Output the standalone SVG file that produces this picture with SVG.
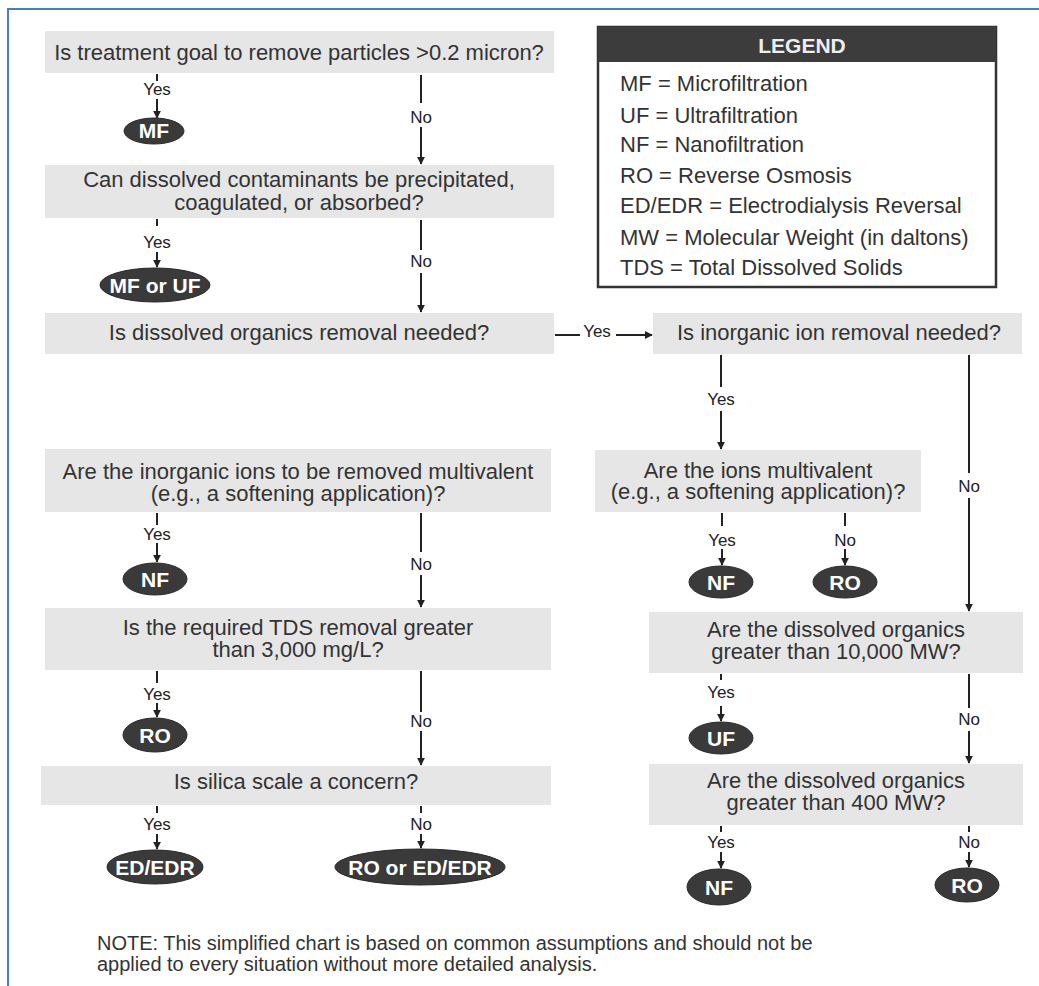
<svg xmlns="http://www.w3.org/2000/svg" width="1039" height="986" viewBox="0 0 1039 986">
<defs>
<style>
.box{fill:#e6e6e6}
.q{font-family:"Liberation Sans",Arial,sans-serif;font-size:22px;fill:#333;text-anchor:middle}
.lbl{font-family:"Liberation Sans",Arial,sans-serif;font-size:17px;fill:#222;text-anchor:middle}
.term{fill:#3a3a3a;stroke:#2a2a2a;stroke-width:1}
.tt{font-family:"Liberation Sans",Arial,sans-serif;font-size:21px;font-weight:bold;fill:#fff;text-anchor:middle}
.ln{stroke:#222;stroke-width:2;fill:none}
.ar{stroke:#222;stroke-width:2;fill:none;marker-end:url(#ah)}
.leg{font-family:"Liberation Sans",Arial,sans-serif;font-size:22px;fill:#333}
.note{font-family:"Liberation Sans",Arial,sans-serif;font-size:20px;fill:#333}
</style>
<marker id="ah" viewBox="0 0 10 10" refX="9" refY="5" markerWidth="4" markerHeight="4" orient="auto" markerUnits="strokeWidth"><path d="M0,0 L10,5 L0,10 z" fill="#222"/></marker>
</defs>
<rect width="1039" height="986" fill="#fff"/>
<path d="M8,986 V9 H1039" fill="none" stroke="#4a7ebb" stroke-width="2"/>

<g id="q1"><rect class="box" x="45" y="31" width="509" height="42"/><text class="q" x="299" y="60">Is treatment goal to remove particles &gt;0.2 micron?</text></g>
<g id="mf"><ellipse class="term" cx="154" cy="131" rx="30" ry="13"/><text class="tt" x="154" y="138">MF</text></g>
<g id="q2"><rect class="box" x="45" y="165" width="509" height="53"/><text class="q" x="299" y="187">Can dissolved contaminants be precipitated,</text><text class="q" x="299" y="210">coagulated, or absorbed?</text></g>
<g id="mfuf"><ellipse class="term" cx="155" cy="285" rx="55" ry="17"/><text class="tt" x="155" y="293">MF or UF</text></g>
<g id="q3"><rect class="box" x="45" y="313" width="509" height="41"/><text class="q" x="299" y="340">Is dissolved organics removal needed?</text></g>
<g id="q4r"><rect class="box" x="653" y="313" width="369" height="41"/><text class="q" x="839" y="340">Is inorganic ion removal needed?</text></g>
<g id="q4l"><rect class="box" x="45" y="449" width="506" height="63"/><text class="q" x="298" y="479">Are the inorganic ions to be removed multivalent</text><text class="q" x="298" y="501">(e.g., a softening application)?</text></g>
<g id="q5r"><rect class="box" x="595" y="450" width="326" height="62"/><text class="q" x="758" y="478">Are the ions multivalent</text><text class="q" x="758" y="499">(e.g., a softening application)?</text></g>
<g id="nf1"><ellipse class="term" cx="155" cy="579" rx="32" ry="16"/><text class="tt" x="155" y="587">NF</text></g>
<g id="nf2"><ellipse class="term" cx="721" cy="582" rx="32" ry="16"/><text class="tt" x="721" y="590">NF</text></g>
<g id="ro2"><ellipse class="term" cx="845" cy="582" rx="32" ry="16"/><text class="tt" x="845" y="590">RO</text></g>
<g id="q5l"><rect class="box" x="45" y="608" width="506" height="62"/><text class="q" x="298" y="635">Is the required TDS removal greater</text><text class="q" x="298" y="657">than 3,000 mg/L?</text></g>
<g id="q7r"><rect class="box" x="649" y="612" width="374" height="61"/><text class="q" x="836" y="637">Are the dissolved organics</text><text class="q" x="836" y="659">greater than 10,000 MW?</text></g>
<g id="ro1"><ellipse class="term" cx="155" cy="735" rx="32" ry="17"/><text class="tt" x="155" y="743">RO</text></g>
<g id="uf"><ellipse class="term" cx="721" cy="738" rx="32" ry="16"/><text class="tt" x="721" y="746">UF</text></g>
<g id="q6l"><rect class="box" x="41" y="766" width="510" height="39"/><text class="q" x="296" y="789">Is silica scale a concern?</text></g>
<g id="q8r"><rect class="box" x="649" y="764" width="374" height="61"/><text class="q" x="836" y="788">Are the dissolved organics</text><text class="q" x="836" y="810">greater than 400 MW?</text></g>
<g id="ededr"><ellipse class="term" cx="155" cy="867" rx="48" ry="17"/><text class="tt" x="155" y="875">ED/EDR</text></g>
<g id="roed"><ellipse class="term" cx="420" cy="867" rx="85" ry="18"/><text class="tt" x="420" y="875">RO or ED/EDR</text></g>
<g id="nf3"><ellipse class="term" cx="719" cy="887" rx="32" ry="18"/><text class="tt" x="719" y="895">NF</text></g>
<g id="ro3"><ellipse class="term" cx="967" cy="885" rx="32" ry="17"/><text class="tt" x="967" y="893">RO</text></g>

<g id="legend">
<rect x="598" y="27" width="398" height="260" fill="#fff" stroke="#333" stroke-width="2.5"/>
<rect x="598" y="27" width="398" height="35" fill="#3c3c3c"/>
<text x="802" y="53" font-family="Liberation Sans, Arial, sans-serif" font-size="21" font-weight="bold" fill="#eee" text-anchor="middle">LEGEND</text>
<text class="leg" x="620" y="91">MF = Microfiltration</text>
<text class="leg" x="620" y="123">UF = Ultrafiltration</text>
<text class="leg" x="620" y="152">NF = Nanofiltration</text>
<text class="leg" x="620" y="183">RO = Reverse Osmosis</text>
<text class="leg" x="620" y="213">ED/EDR = Electrodialysis Reversal</text>
<text class="leg" x="620" y="245">MW = Molecular Weight (in daltons)</text>
<text class="leg" x="620" y="275">TDS = Total Dissolved Solids</text>
</g>

<g id="connectors">
<path class="ln" d="M157,74 V81"/><text class="lbl" x="157" y="95">Yes</text><path class="ar" d="M157,99 V118"/>
<path class="ln" d="M421,75 V103"/><text class="lbl" x="421" y="123">No</text><path class="ar" d="M421,127 V164"/>
<path class="ln" d="M157,219 V226"/><text class="lbl" x="157" y="248">Yes</text><path class="ar" d="M157,252 V267"/>
<path class="ln" d="M421,220 V250"/><text class="lbl" x="421" y="267">No</text><path class="ar" d="M421,273 V312"/>
<path class="ln" d="M555,335 H580"/><text class="lbl" x="597" y="337">Yes</text><path class="ar" d="M616,335 H652"/>
<path class="ln" d="M721,355 V387"/><text class="lbl" x="721" y="405">Yes</text><path class="ar" d="M721,411 V449"/>
<path class="ln" d="M969,355 V473"/><text class="lbl" x="969" y="492">No</text><path class="ar" d="M969,498 V611"/>
<path class="ln" d="M157,513 V525"/><text class="lbl" x="157" y="540">Yes</text><path class="ar" d="M157,543 V562"/>
<path class="ln" d="M421,513 V552"/><text class="lbl" x="421" y="570">No</text><path class="ar" d="M421,575 V607"/>
<path class="ln" d="M722,513 V526"/><text class="lbl" x="722" y="546">Yes</text><path class="ar" d="M722,549 V565"/>
<path class="ln" d="M845,513 V526"/><text class="lbl" x="845" y="546">No</text><path class="ar" d="M845,549 V565"/>
<path class="ln" d="M157,671 V683"/><text class="lbl" x="157" y="700">Yes</text><path class="ar" d="M157,703 V717"/>
<path class="ln" d="M421,671 V712"/><text class="lbl" x="421" y="727">No</text><path class="ar" d="M421,731 V765"/>
<path class="ln" d="M721,674 V680"/><text class="lbl" x="721" y="698">Yes</text><path class="ar" d="M721,706 V721"/>
<path class="ln" d="M969,674 V708"/><text class="lbl" x="969" y="725">No</text><path class="ar" d="M969,731 V763"/>
<path class="ln" d="M157,806 V813"/><text class="lbl" x="157" y="830">Yes</text><path class="ar" d="M157,834 V849"/>
<path class="ln" d="M421,806 V813"/><text class="lbl" x="421" y="830">No</text><path class="ar" d="M421,834 V848"/>
<path class="ln" d="M721,826 V832"/><text class="lbl" x="721" y="848">Yes</text><path class="ar" d="M721,852 V868"/>
<path class="ln" d="M969,826 V832"/><text class="lbl" x="969" y="848">No</text><path class="ar" d="M969,852 V867"/>
</g>

<g id="note">
<text class="note" x="97" y="950">NOTE: This simplified chart is based on common assumptions and should not be</text>
<text class="note" x="97" y="971">applied to every situation without more detailed analysis.</text>
</g>
</svg>
